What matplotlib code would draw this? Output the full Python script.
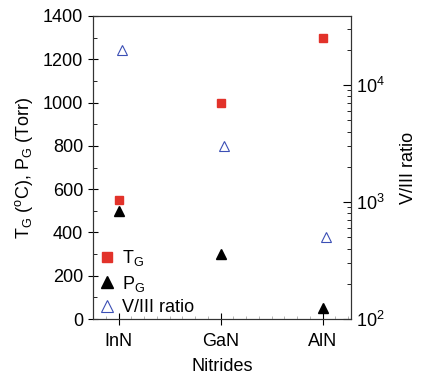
import numpy as np
import matplotlib
matplotlib.use("Agg")
import matplotlib.pyplot as plt
from matplotlib.ticker import MultipleLocator, LogLocator, NullFormatter

plt.rcParams['font.family'] = ['Liberation Sans', 'DejaVu Sans']
plt.rcParams['mathtext.fontset'] = 'custom'
plt.rcParams['mathtext.rm'] = 'Liberation Sans'
plt.rcParams['mathtext.it'] = 'Liberation Sans:italic'

# data
nitrides = ['InN', 'GaN', 'AlN']
t_growth = [550, 1000, 1300]      # deg C
p_growth = [500, 300, 50]         # Torr
v3_ratio = [20000, 3000, 500]

x = np.arange(len(nitrides))

fig = plt.figure(figsize=(4.21, 3.79), dpi=100)
ax = fig.add_axes([0.221, 0.158, 0.613, 0.80])
ax2 = ax.twinx()

h1, = ax.plot(x, t_growth, 's', color='#e2322a', ms=6, mec='#e2322a',
              linestyle='none', label=r'T$_\mathrm{G}$')
h2, = ax.plot(x, p_growth, '^', color='black', ms=7.5,
              linestyle='none', label=r'P$_\mathrm{G}$')
h3, = ax2.plot(x + 0.03, v3_ratio, '^', mfc='none', mec='#3b4fb5', mew=0.8,
               ms=7.5, linestyle='none', label='V/III ratio')

ax.set_xlim(-0.25, 2.28)
ax.set_ylim(0, 1400)
ax.set_xticks(x)
ax.set_xticklabels(nitrides)
ax.yaxis.set_major_locator(MultipleLocator(200))
ax.yaxis.set_minor_locator(MultipleLocator(100))
ax.xaxis.set_minor_locator(MultipleLocator(0.125))
ax.tick_params(axis='y', which='major', direction='inout', length=7, labelsize=13, width=0.8)
ax.tick_params(axis='y', which='minor', direction='in', length=3, width=0.6)
ax.tick_params(axis='x', which='major', direction='inout', length=8, labelsize=13, width=0.8, pad=6)
ax.tick_params(axis='x', which='minor', direction='in', length=2, width=0.5, color='#999999')

ax2.set_yscale('log')
ax2.set_ylim(100, 39000)
ax2.yaxis.set_major_locator(LogLocator(base=10))
ax2.yaxis.set_minor_locator(LogLocator(base=10, subs=np.arange(2, 10)))
ax2.yaxis.set_minor_formatter(NullFormatter())
ax2.tick_params(axis='y', which='major', direction='in', length=6, labelsize=13, width=0.8)
ax2.tick_params(axis='y', which='minor', direction='in', length=3, width=0.6)

for a in (ax, ax2):
    for s in a.spines.values():
        s.set_linewidth(0.8)
        s.set_color('#333333')

ax.set_xlabel('Nitrides', fontsize=13, labelpad=6)
ax.set_ylabel(r'T$_\mathrm{G}$ ($^\mathrm{o}$C), P$_\mathrm{G}$ (Torr)', fontsize=13, labelpad=6)
ax2.set_ylabel('V/III ratio', fontsize=13, labelpad=11)

ax.legend(handles=[h1, h2, h3], loc='lower left', frameon=False, fontsize=13,
          handlelength=0.8, handletextpad=0.45, labelspacing=0.3, markerscale=1.2,
          borderaxespad=0.1, bbox_to_anchor=(-0.01, -0.02))

fig.savefig('out.png', dpi=100)
